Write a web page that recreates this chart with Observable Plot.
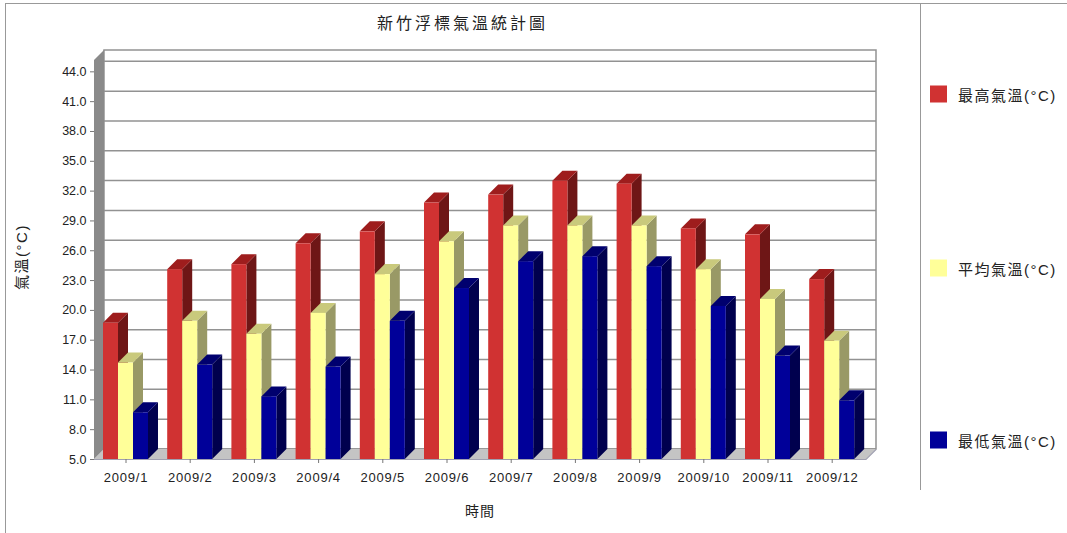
<!DOCTYPE html>
<html>
<head>
<meta charset="utf-8">
<script src="https://cdn.jsdelivr.net/npm/d3@7"></script>
<script src="https://cdn.jsdelivr.net/npm/@observablehq/plot@0.6"></script>
<style>
  html, body { margin: 0; padding: 0; background: #fff; }
  #wrap { position: relative; width: 1067px; height: 533px; overflow: hidden; background: #fff;
          font-family: "Liberation Sans", Arial, "Noto Sans CJK TC", sans-serif; color: #222; }
  #chart { position: absolute; left: 0; top: 0; }
  #chart g[aria-label="x-axis tick label"] text { letter-spacing: 0.8px; font-size: 13px; }
  #chart g[aria-label="y-axis tick label"] text { font-size: 12.5px; }
  .abs { position: absolute; white-space: nowrap; }
  #title { left: 377px; top: 10px; font-size: 16px; letter-spacing: 3px; }
  #ylab { left: 20px; top: 257px; font-size: 15px; letter-spacing: 1.5px; transform: translate(-50%, -50%) rotate(-90deg); }
  #xlab { left: 480px; top: 510px; font-size: 14px; letter-spacing: 1px; transform: translate(-50%, -50%); }
  .leg { left: 930px; font-size: 15px; letter-spacing: 1.5px; display: flex; align-items: center; transform: translateY(-50%); }
  .sw { width: 17px; height: 17px; margin-right: 11px; }
  #border { position: absolute; left: 5px; top: 3px; width: 1100px; height: 600px; border-left: 1px solid #999; border-top: 1px solid #999; }
  #divider { position: absolute; left: 920px; top: 3px; width: 0; height: 487px; border-left: 1px solid #999; }
</style>
</head>
<body>
<div id="wrap">
  <div id="chart"></div>
  <div id="border"></div>
  <div id="divider"></div>
  <div id="title" class="abs"></div>
  <div id="ylab" class="abs"></div>
  <div id="xlab" class="abs"></div>
  <div id="legend"></div>
</div>
<script>
// ---- data ----
const months = ["2009/1","2009/2","2009/3","2009/4","2009/5","2009/6","2009/7","2009/8","2009/9","2009/10","2009/11","2009/12"];
const maxTemp = [18.7, 24.1, 24.6, 26.7, 27.9, 30.8, 31.6, 33.0, 32.7, 28.2, 27.6, 23.1];
const avgTemp = [14.7, 18.9, 17.6, 19.7, 23.6, 26.9, 28.5, 28.5, 28.5, 24.1, 21.1, 16.9];
const minTemp = [9.7, 14.5, 11.3, 14.3, 18.9, 22.2, 24.9, 25.4, 24.4, 20.4, 15.4, 10.9];
const seriesNames = ["最高氣溫(°C)", "平均氣溫(°C)", "最低氣溫(°C)"];
const yTicks = [5, 8, 11, 14, 17, 20, 23, 26, 29, 32, 35, 38, 41, 44];
const titleText = "新竹浮標氣溫統計圖";
const xLabel = "時間";
const yLabel = "氣溫(°C)";

// ---- styles ----
const frontColors = ["#d03232", "#ffff99", "#000099"];
const topColors   = ["#9e1d1d", "#c9c97c", "#00006e"];
const sideColors  = ["#6e1616", "#999966", "#00004e"];
const D = 10;          // 3D depth in pixels
const BW = 0.2336;     // bar width in category units
const Y0 = 5;          // value axis base

const series = [maxTemp, avgTemp, minTemp];

function walls(index, scales, values, dim) {
  const {y} = scales;
  const g = d3.create("svg:g");
  const L = dim.marginLeft, R = dim.width - dim.marginRight, T = dim.marginTop, B = dim.height - dim.marginBottom;
  g.append("rect").attr("x", L + D).attr("y", T - D).attr("width", R - L).attr("height", B - T)
    .attr("fill", "#fff").attr("stroke", "#929292").attr("stroke-width", 1.5);
  for (const t of yTicks) {
    g.append("line").attr("x1", L + D).attr("x2", R + D).attr("y1", y(t) - D).attr("y2", y(t) - D)
      .attr("stroke", "#929292").attr("stroke-width", 1.5);
  }
  g.append("path").attr("d", `M${L},${B}L${R},${B}L${R + D},${B - D}L${L + D},${B - D}Z`).attr("fill", "#c4c4c4");
  g.append("path").attr("d", `M${L},${B}L${L},${T}L${L + D},${T - D}L${L + D},${B - D}Z`).attr("fill", "#8a8a8a");
  g.append("path").attr("d", `M${L},${B + 0.5}L${R},${B + 0.5}L${R + D},${B - D + 0.5}`)
    .attr("fill", "none").attr("stroke", "#a0a0b0").attr("stroke-width", 1.2);
  return g.node();
}

function faces(vals, j) {
  return (index, scales) => {
    const {x, y} = scales;
    const g = d3.create("svg:g");
    vals.forEach((v, i) => {
      const x1 = x(i + (j - 1.5) * BW), x2 = x(i + (j - 0.5) * BW);
      const yb = y(Y0), yt = y(v);
      g.append("path").attr("d", `M${x2},${yt}L${x2 + D},${yt - D}L${x2 + D},${yb - D}L${x2},${yb}Z`).attr("fill", sideColors[j]);
      g.append("path").attr("d", `M${x1},${yt}L${x1 + D},${yt - D}L${x2 + D},${yt - D}L${x2},${yt}Z`).attr("fill", topColors[j]);
    });
    return g.node();
  };
}

const marks = [walls];
series.forEach((vals, j) => {
  const rows = vals.map((v, i) => ({i, v}));
  marks.push(faces(vals, j));
  marks.push(Plot.rect(rows, {
    x1: d => d.i + (j - 1.5) * BW,
    x2: d => d.i + (j - 0.5) * BW,
    y1: d => Y0,
    y2: d => d.v,
    fill: frontColors[j]
  }));
});
marks.push(Plot.axisY({ticks: yTicks, tickFormat: d3.format(".1f"), tickSize: 4, tickPadding: 4, label: null, stroke: "#777"}));
marks.push(Plot.axisX({ticks: d3.range(months.length), tickFormat: i => months[i], tickSize: 4, tickPadding: 9, label: null, stroke: "#777"}));

const chart = Plot.plot({
  width: 920,
  height: 533,
  marginLeft: 94,
  marginRight: 54,
  marginTop: 60,
  marginBottom: 74,
  x: {type: "linear", domain: [0, 11], range: [125.5, 831.7]},
  y: {type: "linear", domain: [Y0, 45.14]},
  style: {fontFamily: "'Liberation Sans', Arial, sans-serif", fontSize: "12px", background: "transparent", color: "#222"},
  marks
});
document.getElementById("chart").appendChild(chart);

document.getElementById("title").textContent = titleText;
document.getElementById("xlab").textContent = xLabel;
document.getElementById("ylab").textContent = yLabel;

const legendY = [94, 268, 440];
const legend = document.getElementById("legend");
seriesNames.forEach((name, j) => {
  const div = document.createElement("div");
  div.className = "abs leg";
  div.style.top = legendY[j] + "px";
  const sw = document.createElement("div");
  sw.className = "sw";
  sw.style.background = frontColors[j];
  const t = document.createElement("span");
  t.textContent = name;
  div.appendChild(sw); div.appendChild(t);
  legend.appendChild(div);
});
</script>
</body>
</html>
